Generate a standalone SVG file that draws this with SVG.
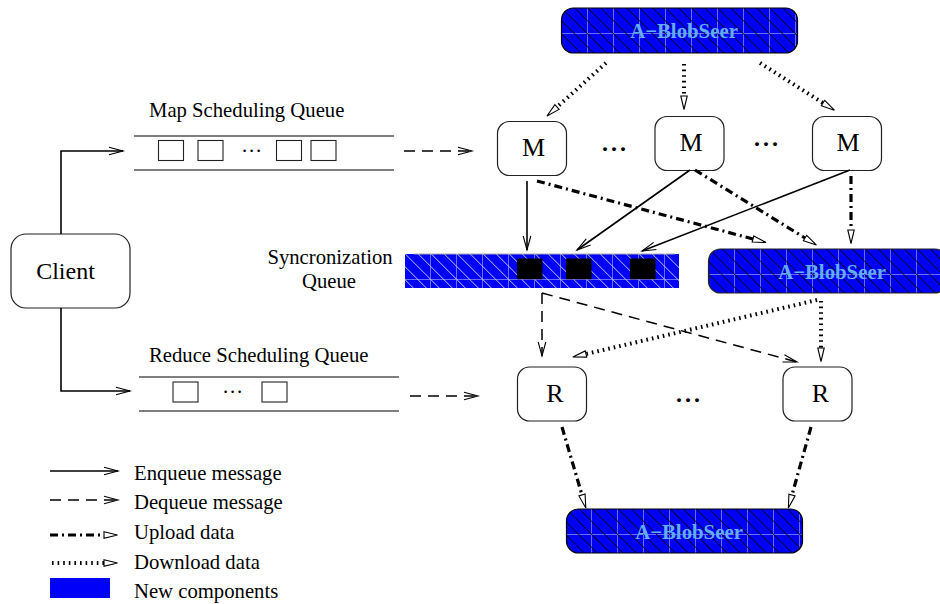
<svg xmlns="http://www.w3.org/2000/svg" width="940" height="604" viewBox="0 0 940 604">
<style>
text{font-family:"Liberation Serif","Times New Roman",serif;fill:#000}
.lab{font-size:20.7px}
.node{fill:#fff;stroke:#222;stroke-width:1.2}
.ntx{font-size:26px;text-anchor:middle}
.blobtx{font-size:20.8px;font-weight:bold;fill:#62aef5;text-anchor:middle}
.dots{font-size:24px;font-weight:bold;letter-spacing:3px;text-anchor:middle}
.sd{font-size:20.7px;letter-spacing:1.8px;text-anchor:middle}
.q{stroke:#000;stroke-width:1.1;fill:none}
.qb{stroke:#222;stroke-width:1.1;fill:#fff}
.c{fill:none;stroke:#000}
.en{stroke-width:1.6;marker-end:url(#open)}
.de{stroke-width:1.5;stroke-dasharray:11 7;marker-end:url(#open)}
.up{stroke-width:3.2;stroke-dasharray:8 4 2 4;marker-end:url(#tri)}
.dn{stroke-width:4;stroke-dasharray:1.6 4;marker-end:url(#tri)}
.fillb{fill:#0000f8}
.grid{stroke:#6a6af8;stroke-width:1;fill:none}
.dk{stroke:#000;stroke-width:1;fill:none}
.lt{stroke:#c4c4ff;stroke-width:1;fill:none}
</style>
<defs>
<marker id="open" markerUnits="userSpaceOnUse" markerWidth="20" markerHeight="14" refX="15" refY="7" orient="auto" overflow="visible"><path d="M1,3.2 L15,7 L1,10.8" fill="none" stroke="#000" stroke-width="1.1"/></marker>
<marker id="tri" markerUnits="userSpaceOnUse" markerWidth="16" markerHeight="12" refX="0.5" refY="6" orient="auto" overflow="visible"><path d="M0.5,2.8 L14,6 L0.5,9.2 Z" fill="#fff" stroke="#000" stroke-width="1.1"/></marker>
<path id="gridp" d="M26,0V46M52,0V46M78,0V46M104,0V46M130,0V46M156,0V46M182,0V46M208,0V46M234,0V46M260,0V46M0,26H286"/>
<path id="diag" d="M-52,0l46,46M-39,0l46,46M-26,0l46,46M-13,0l46,46M0,0l46,46M13,0l46,46M26,0l46,46M39,0l46,46M52,0l46,46M65,0l46,46M78,0l46,46M91,0l46,46M104,0l46,46M117,0l46,46M130,0l46,46M143,0l46,46M156,0l46,46M169,0l46,46M182,0l46,46M195,0l46,46M208,0l46,46M221,0l46,46M234,0l46,46M247,0l46,46M260,0l46,46"/>
<clipPath id="cb1"><rect x="561.500" y="8" width="236" height="45" rx="12"/></clipPath>
<clipPath id="cb2"><rect x="708.500" y="249" width="238" height="44" rx="12"/></clipPath>
<clipPath id="cb3"><rect x="566.500" y="509" width="236" height="44" rx="12"/></clipPath>
<clipPath id="cs"><rect x="405" y="254" width="274" height="34"/></clipPath>
</defs>

<g id="blob-top"><rect class="fillb" x="561.500" y="8" width="236" height="45" rx="12"/><g clip-path="url(#cb1)"><use href="#gridp" class="grid" x="561.500" y="7.500"/><use href="#diag" class="dk" x="561.700" y="8"/></g><rect x="561.500" y="8" width="236" height="45" rx="12" fill="none" stroke="#000" stroke-width="1.2"/><text class="blobtx" x="684" y="38.300">A−BlobSeer</text></g>
<g id="blob-mid"><rect class="fillb" x="708.500" y="249" width="238" height="44" rx="12"/><g clip-path="url(#cb2)"><use href="#gridp" class="grid" x="708.500" y="248.500"/><use href="#diag" class="dk" x="709.300" y="249"/></g><rect x="708.500" y="249" width="238" height="44" rx="12" fill="none" stroke="#222" stroke-width="1.2"/><text class="blobtx" x="832" y="279.300">A−BlobSeer</text></g>
<g id="blob-bottom"><rect class="fillb" x="566.500" y="509" width="236" height="44" rx="12"/><g clip-path="url(#cb3)"><use href="#gridp" class="grid" x="565.500" y="508.500"/><use href="#diag" class="dk" x="566.300" y="509"/></g><rect x="566.500" y="509" width="236" height="44" rx="12" fill="none" stroke="#000" stroke-width="1.2"/><text class="blobtx" x="689" y="539.300">A−BlobSeer</text></g>

<g id="sync-queue"><rect class="fillb" x="405" y="254" width="274" height="34"/><g clip-path="url(#cs)"><use href="#gridp" class="grid" x="404.500" y="253.500"/><use href="#diag" class="lt" x="405.300" y="254"/></g><path d="M414,254H675" stroke="#aaa" stroke-width="1"/><rect x="517" y="258.500" width="25.500" height="20.700" fill="#000"/><rect x="566" y="258.500" width="25.500" height="20.700" fill="#000"/><rect x="630" y="258.500" width="25.500" height="20.700" fill="#000"/>
<text class="lab" x="330" y="264" text-anchor="middle">Syncronization</text><text class="lab" x="329" y="288" text-anchor="middle">Queue</text></g>

<g id="client"><rect class="node" x="11" y="234" width="119" height="74" rx="15"/><text x="65.500" y="279" font-size="24" text-anchor="middle">Client</text></g>
<g id="m1"><rect class="node" x="497.500" y="121.500" width="69" height="54" rx="12"/><text class="ntx" x="533.500" y="155.700">M</text></g>
<g id="m2"><rect class="node" x="655" y="116.500" width="69" height="54" rx="12"/><text class="ntx" x="691" y="150.700">M</text></g>
<g id="m3"><rect class="node" x="812.500" y="116.500" width="69" height="54" rx="12"/><text class="ntx" x="848" y="150.700">M</text></g>
<g id="r1"><rect class="node" x="517.500" y="367" width="69" height="54" rx="12"/><text class="ntx" x="555" y="401.700">R</text></g>
<g id="r2"><rect class="node" x="783" y="367" width="69" height="54" rx="12"/><text class="ntx" x="820.500" y="401.700">R</text></g>
<g id="dots"><text class="dots" x="615.500" y="151">...</text><text class="dots" x="767.500" y="146">...</text><text class="dots" x="689.500" y="402">...</text></g>

<g id="map-queue"><text class="lab" x="149" y="117">Map Scheduling Queue</text><path class="q" d="M134,136H394M134,170H394"/>
<rect class="qb" x="158.500" y="140.500" width="25" height="20"/><rect class="qb" x="198" y="140.500" width="25" height="20"/><rect class="qb" x="276.500" y="140.500" width="25" height="20"/><rect class="qb" x="311" y="140.500" width="25" height="20"/><text class="sd" x="252.500" y="152">...</text></g>
<g id="reduce-queue"><text class="lab" x="149" y="362">Reduce Scheduling Queue</text><path class="q" d="M139,377H399M139,411H399"/>
<rect class="qb" x="173" y="382" width="25" height="20"/><rect class="qb" x="262" y="382" width="25" height="20"/><text class="sd" x="233.500" y="393">...</text></g>

<g id="connectors">
<path class="c en" d="M61,234V151H123"/>
<path class="c en" d="M61,308V391H130"/>
<path class="c de" d="M404,151H472"/>
<path class="c de" d="M410,396H478"/>
<path class="c dn" d="M606,63L557,107"/>
<path class="c dn" d="M684,64V96"/>
<path class="c dn" d="M760,63L823,103"/>
<path class="c en" d="M527,181V250"/>
<path class="c en" d="M690,170L577,250"/>
<path class="c en" d="M850,170L642,251"/>
<path class="c up" d="M537,181L753,239"/>
<path class="c up" d="M695,170L805,238"/>
<path class="c up" d="M851,176V230"/>
<path class="c de" d="M542,293V356"/>
<path class="c de" d="M542,293L797,362"/>
<path class="c dn" d="M817,300L586,354"/>
<path class="c dn" d="M821,301V348"/>
<path class="c up" d="M562,427L582,495"/>
<path class="c up" d="M811,427L792,495"/>
</g>

<g id="legend">
<path class="c en" d="M50,471H118"/><path class="c de" d="M50,500H118"/><path class="c up" d="M50,535H104"/><path class="c dn" d="M52,563H104"/>
<rect class="fillb" x="50" y="578" width="60" height="20"/>
<text class="lab" x="134" y="479.500">Enqueue message</text><text class="lab" x="134" y="509">Dequeue message</text><text class="lab" x="134" y="539">Upload data</text><text class="lab" x="134" y="568.500">Download data</text><text class="lab" x="134" y="597.500">New components</text>
</g>
</svg>
